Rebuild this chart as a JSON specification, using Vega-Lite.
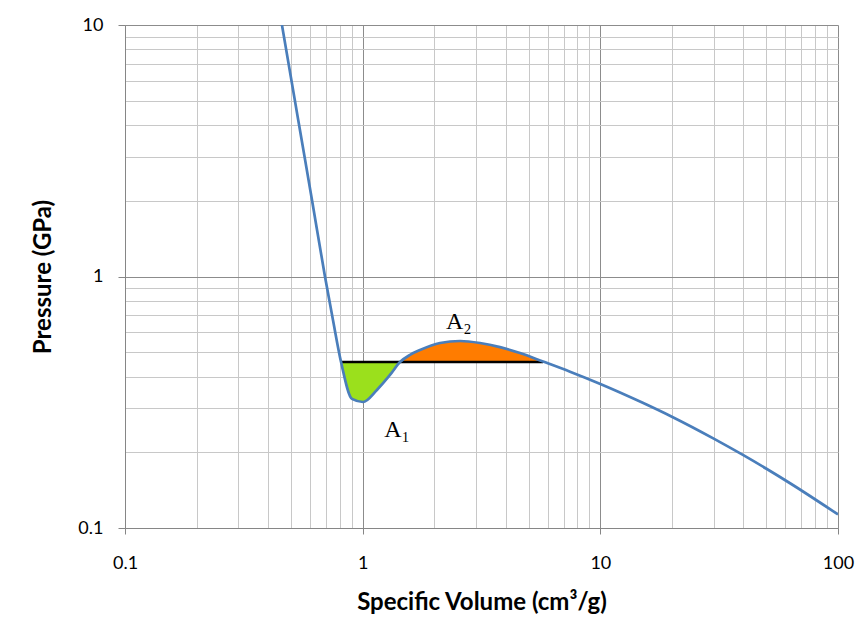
{
  "$schema": "https://vega.github.io/schema/vega-lite/v6.json",
  "width": 713,
  "height": 503,
  "autosize": {"type": "none"},
  "padding": {"left": 125, "top": 25, "right": 24, "bottom": 102},
  "background": "white",
  "config": {"view": {"stroke": null}},
  "datasets": {
    "curve": [
      {"v": 0.4575, "p": 10},
      {"v": 0.5356, "p": 4.19},
      {"v": 0.612, "p": 2.015},
      {"v": 0.694, "p": 1.0},
      {"v": 0.75, "p": 0.671},
      {"v": 0.811, "p": 0.457},
      {"v": 0.902, "p": 0.326},
      {"v": 1.003, "p": 0.317},
      {"v": 1.148, "p": 0.354},
      {"v": 1.303, "p": 0.406},
      {"v": 1.436, "p": 0.457},
      {"v": 1.582, "p": 0.488},
      {"v": 1.742, "p": 0.51},
      {"v": 2.116, "p": 0.544},
      {"v": 2.568, "p": 0.554},
      {"v": 3.117, "p": 0.544},
      {"v": 3.782, "p": 0.524},
      {"v": 4.592, "p": 0.496},
      {"v": 5.74, "p": 0.459},
      {"v": 7.455, "p": 0.4184},
      {"v": 10, "p": 0.374},
      {"v": 15, "p": 0.3155},
      {"v": 20, "p": 0.2771},
      {"v": 30, "p": 0.2267},
      {"v": 39.8, "p": 0.1952},
      {"v": 50, "p": 0.172},
      {"v": 63.1, "p": 0.1503},
      {"v": 100, "p": 0.1132}
    ],
    "green": [
      {"v": 0.811, "p": 0.457},
      {"v": 0.902, "p": 0.326},
      {"v": 1.003, "p": 0.317},
      {"v": 1.148, "p": 0.354},
      {"v": 1.303, "p": 0.406},
      {"v": 1.436, "p": 0.457}
    ],
    "orange": [
      {"v": 1.436, "p": 0.457},
      {"v": 1.582, "p": 0.488},
      {"v": 1.742, "p": 0.51},
      {"v": 2.116, "p": 0.544},
      {"v": 2.568, "p": 0.554},
      {"v": 3.117, "p": 0.544},
      {"v": 3.782, "p": 0.524},
      {"v": 4.592, "p": 0.496},
      {"v": 5.74, "p": 0.459}
    ],
    "hline": [{"v": 0.803, "v2": 5.74, "p": 0.457}],
    "labels": [
      {"v": 1.395, "p": 0.245, "t": "A₁"},
      {"v": 2.54, "p": 0.659, "t": "A₂"}
    ]
  },
  "encoding": {
    "x": {
      "field": "v",
      "type": "quantitative",
      "scale": {"type": "log", "domain": [0.1, 100], "nice": false},
      "axis": {
        "title": "Specific Volume (cm³/g)",
        "values": [0.1, 0.2, 0.3, 0.4, 0.5, 0.6, 0.7, 0.8, 0.9, 1, 2, 3, 4, 5, 6, 7, 8, 9, 10, 20, 30, 40, 50, 60, 70, 80, 90, 100],
        "labelExpr": "datum.value==0.1?'0.1':datum.value==1?'1':datum.value==10?'10':datum.value==100?'100':''",
        "grid": true,
        "gridColor": {"condition": {"test": "datum.value==0.1||datum.value==1||datum.value==10||datum.value==100", "value": "#8c8c8c"}, "value": "#c8c8c8"},
        "gridWidth": 1,
        "tickOpacity": {"condition": {"test": "datum.value==0.1||datum.value==1||datum.value==10||datum.value==100", "value": 1}, "value": 0},
        "tickColor": "#868686",
        "tickSize": 6,
        "domainColor": "#868686",
        "labelFont": "Lato",
        "labelFontSize": 18,
        "labelColor": "#000",
        "labelPadding": 20,
        "labelFlush": false,
        "labelOverlap": false,
        "titleFont": "Lato",
        "titleFontSize": 24,
        "titleFontWeight": "bold",
        "titleColor": "#000",
        "titlePadding": 18
      }
    },
    "y": {
      "field": "p",
      "type": "quantitative",
      "scale": {"type": "log", "domain": [0.1, 10], "nice": false},
      "axis": {
        "title": "Pressure (GPa)",
        "values": [0.1, 0.2, 0.3, 0.4, 0.5, 0.6, 0.7, 0.8, 0.9, 1, 2, 3, 4, 5, 6, 7, 8, 9, 10],
        "labelExpr": "datum.value==0.1?'0.1':datum.value==1?'1':datum.value==10?'10':''",
        "grid": true,
        "gridColor": {"condition": {"test": "datum.value==0.1||datum.value==1||datum.value==10", "value": "#8c8c8c"}, "value": "#c8c8c8"},
        "gridWidth": 1,
        "tickOpacity": {"condition": {"test": "datum.value==0.1||datum.value==1||datum.value==10", "value": 1}, "value": 0},
        "tickColor": "#868686",
        "tickSize": 7,
        "domainColor": "#868686",
        "labelFont": "Lato",
        "labelFontSize": 18,
        "labelColor": "#000",
        "labelPadding": 15,
        "labelFlush": false,
        "labelOverlap": false,
        "titleFont": "Lato",
        "titleFontSize": 24,
        "titleFontWeight": "bold",
        "titleColor": "#000",
        "titlePadding": 22
      }
    }
  },
  "layer": [
    {
      "data": {"name": "green"},
      "mark": {"type": "area", "color": "#9be01c", "opacity": 1, "clip": true, "interpolate": "monotone"},
      "encoding": {"y2": {"datum": 0.457}}
    },
    {
      "data": {"name": "orange"},
      "mark": {"type": "area", "color": "#ff7c00", "opacity": 1, "clip": true, "interpolate": "monotone"},
      "encoding": {"y2": {"datum": 0.457}}
    },
    {
      "data": {"name": "hline"},
      "mark": {"type": "rule", "color": "#000000", "strokeWidth": 2.5},
      "encoding": {"x2": {"field": "v2"}}
    },
    {
      "data": {"name": "curve"},
      "mark": {"type": "line", "color": "#4a7ebb", "strokeWidth": 2.7, "clip": true, "interpolate": "monotone"},
      "encoding": {}
    },
    {
      "data": {"name": "labels"},
      "mark": {"type": "text", "font": "Liberation Serif", "fontSize": 24, "color": "#000", "align": "center", "baseline": "middle"},
      "encoding": {"text": {"field": "t"}}
    }
  ]
}
